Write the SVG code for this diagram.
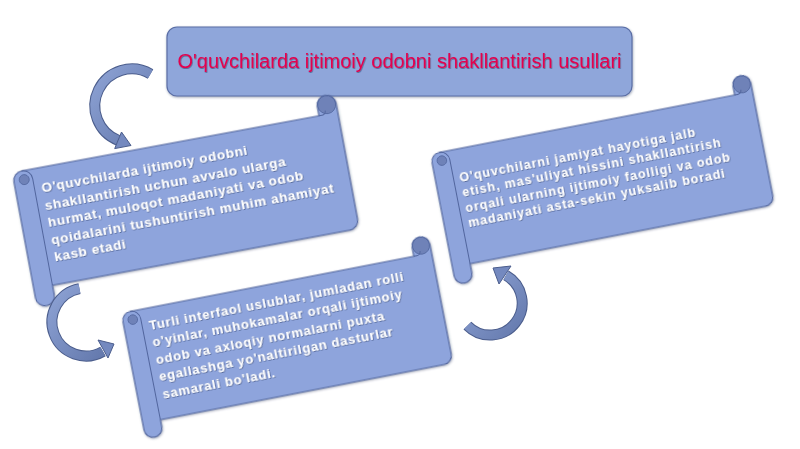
<svg xmlns="http://www.w3.org/2000/svg" width="800" height="449" viewBox="0 0 800 449">
<defs>
<filter id="sh" x="-10%" y="-10%" width="120%" height="130%"><feDropShadow dx="0.5" dy="1" stdDeviation="1" flood-color="#2a3760" flood-opacity="0.45"/></filter>
<filter id="ts" x="-5%" y="-20%" width="110%" height="140%"><feDropShadow dx="0.6" dy="0.8" stdDeviation="0.6" flood-color="#1d2a55" flood-opacity="0.6"/></filter>
<linearGradient id="ag" x1="0" y1="0" x2="1" y2="1"><stop offset="0" stop-color="#8da2d4"/><stop offset="1" stop-color="#6479ad"/></linearGradient>
<style>
.box{fill:#8fa6da;stroke:#5a6ea6;stroke-width:1.2}
.scroll{fill:#8ea4dc;stroke:#52669e;stroke-width:1.1}
.det{fill:none;stroke:#52669e;stroke-width:1}
.dark{fill:#6f82b8;stroke:#52669e;stroke-width:0.8}
.title{font-family:"Liberation Sans",Arial,sans-serif;font-size:20px;fill:#e3004f}
.st{font-family:"Liberation Sans",Arial,sans-serif;font-weight:bold;fill:#ffffff}
.band-o{fill:none;stroke:#4b5d8c;stroke-width:11}
.band{fill:none;stroke:url(#ag);stroke-width:9}
.head{fill:#7489bf;stroke:#4b5d8c;stroke-width:1}
</style>
</defs>
<rect width="800" height="449" fill="#ffffff"/>

<g id="title">
<rect class="box" x="167" y="27" width="465" height="69" rx="10" filter="url(#sh)"/>
<text class="title" x="399.5" y="68" text-anchor="middle" filter="url(#ts)">O'quvchilarda ijtimoiy odobni shakllantirish usullari</text>
</g>

<g id="scroll1" transform="translate(8.8,154) rotate(-10.5)">
<path class="scroll" filter="url(#sh)" d="M0,28.5 A9.5,9.5 0 0 1 9.5,19 L312,19 L312,9.5 A9.5,9.5 0 0 1 331,9.5 L331,127.5 A9.5,9.5 0 0 1 321.5,137 L19,137 L19,146.5 A9.5,9.5 0 0 1 0,146.5 Z"/>
<path class="det" d="M19,28.5 L19,137 M9.5,19 A9.5,9.5 0 0 1 19,28.5"/>
<circle class="dark" cx="10.5" cy="28" r="5"/>
<circle class="dark" cx="321.5" cy="9.5" r="9"/>
<path class="det" d="M312,19 L315,19 A4,4 0 0 0 319,15"/>
<text class="st" font-size="13.5" letter-spacing="0.7" filter="url(#ts)">
<tspan x="26" y="44">O'quvchilarda ijtimoiy odobni</tspan>
<tspan x="26" y="61.5">shakllantirish uchun avvalo ularga</tspan>
<tspan x="26" y="79">hurmat, muloqot madaniyati va odob</tspan>
<tspan x="26" y="96.5">qoidalarini tushuntirish muhim ahamiyat</tspan>
<tspan x="26" y="114">kasb etadi</tspan>
</text>
</g>

<g id="scroll2" transform="translate(117.9,295.5) rotate(-11)">
<path class="scroll" filter="url(#sh)" d="M0,27 A9,9 0 0 1 9,18 L298,18 L298,9 A9,9 0 0 1 316,9 L316,121 A9,9 0 0 1 307,130 L18,130 L18,137 A9,9 0 0 1 0,137 Z"/>
<path class="det" d="M18,27 L18,130 M9,18 A9,9 0 0 1 18,27"/>
<circle class="dark" cx="10" cy="26.5" r="4.8"/>
<circle class="dark" cx="307" cy="9" r="8.5"/>
<path class="det" d="M298,18 L301,18 A4,4 0 0 0 305,14"/>
<text class="st" font-size="13" letter-spacing="0.8" filter="url(#ts)">
<tspan x="25" y="40">Turli interfaol uslublar, jumladan rolli</tspan>
<tspan x="25" y="57.5">o'yinlar, muhokamalar orqali ijtimoiy</tspan>
<tspan x="25" y="75">odob va axloqiy normalarni puxta</tspan>
<tspan x="25" y="92.5">egallashga yo'naltirilgan dasturlar</tspan>
<tspan x="25" y="110">samarali bo'ladi.</tspan>
</text>
</g>

<g id="scroll3" transform="translate(427,136.5) rotate(-11)">
<path class="scroll" filter="url(#sh)" d="M0,27 A9,9 0 0 1 9,18 L310,18 L310,9 A9,9 0 0 1 328,9 L328,124 A9,9 0 0 1 319,133 L18,133 L18,142 A9,9 0 0 1 0,142 Z"/>
<path class="det" d="M18,27 L18,133 M9,18 A9,9 0 0 1 18,27"/>
<circle class="dark" cx="10" cy="26.5" r="4.8"/>
<circle class="dark" cx="319" cy="9" r="8.5"/>
<path class="det" d="M310,18 L313,18 A4,4 0 0 0 317,14"/>
<text class="st" font-size="12.5" letter-spacing="1" filter="url(#ts)">
<tspan x="24" y="51">O'quvchilarni jamiyat hayotiga jalb</tspan>
<tspan x="24" y="66.5">etish, mas'uliyat hissini shakllantirish</tspan>
<tspan x="24" y="82">orqali ularning ijtimoiy faolligi va odob</tspan>
<tspan x="24" y="97.5">madaniyati asta-sekin yuksalib boradi</tspan>
</text>
</g>

<g id="connectors">
<g id="arrow1">
<path class="band-o" d="M150.5,74 A37,37 0 1 0 118.1,140.3"/>
<path class="band" d="M150.5,74 A37,37 0 1 0 118.1,140.3"/>
<polygon class="head" points="114.7,148.6 121.5,132 131,145.5"/>
</g>
<g id="arrow2">
<path class="band-o" d="M79.5,288.6 A34,34 0 1 0 103,351.4"/>
<path class="band" d="M79.5,288.6 A34,34 0 1 0 103,351.4"/>
<polygon class="head" points="98,340 108,358 114,344"/>
</g>
<g id="arrow3">
<path class="band-o" d="M467.4,325.6 A32,32 0 1 0 506,275.3"/>
<path class="band" d="M467.4,325.6 A32,32 0 1 0 506,275.3"/>
<polygon class="head" points="499,284 511,266 493,268"/>
</g>
</g>
</svg>
